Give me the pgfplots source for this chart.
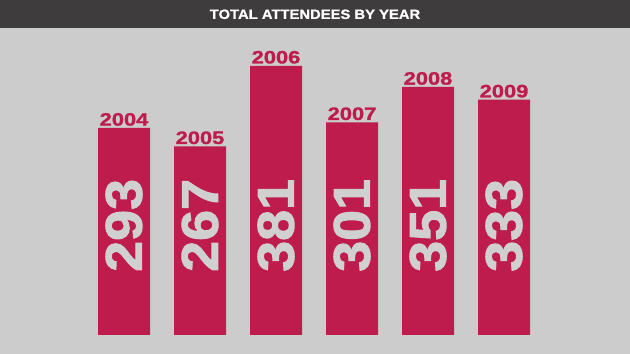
\documentclass[border=0pt]{standalone}
\usepackage{pgfplots}
\pgfplotsset{compat=1.18}
\usepackage{fontspec}
\setmainfont{Liberation Sans}
\newfontfamily\titlefont{Liberation Sans Bold}[FakeStretch=1.1,FakeBold=1]
\newfontfamily\yearfont{Liberation Sans Bold}[FakeStretch=1.22,FakeBold=1.5]
\newfontfamily\valfont{Liberation Sans Bold}[FakeStretch=1.08,FakeBold=2]
\definecolor{barc}{HTML}{BE1C4D}
\definecolor{bgc}{HTML}{CCCCCC}
\definecolor{hdr}{HTML}{3E3C3D}
\definecolor{valc}{HTML}{D0D0D0}
\tikzset{valnode/.style={rotate=90, anchor=west, inner sep=0, text=valc,
    font=\valfont\fontsize{51.7}{52}\selectfont}}
\begin{document}
\begin{tikzpicture}
\fill[bgc] (0,0) rectangle (630bp,354bp);
\fill[hdr] (0,326bp) rectangle (630bp,354bp);
\node[text=white, inner sep=0, font=\titlefont\fontsize{13.5}{14}\selectfont] at (315bp,339.7bp) {TOTAL ATTENDEES BY YEAR};
\begin{axis}[
  at={(0,0)}, anchor=south west,
  scale only axis, width=630bp, height=326bp,
  xmin=-1.6316, xmax=6.6579,
  ymin=-26.89, ymax=434.5,
  hide axis, clip=false,
]
\addplot[ybar, bar width=52bp, fill=barc, draw=none,
  point meta=explicit symbolic,
  nodes near coords={\pgfplotspointmeta},
  every node near coord/.append style={text=barc, inner sep=0, anchor=south, yshift=2bp,
    font=\yearfont\fontsize{18}{18}\selectfont}]
  table[meta=year] {
x y year
0 293 2004
1 267 2005
2 381 2006
3 301 2007
4 351 2008
5 333 2009
};
\node[valnode] at (axis cs:0,89.2) {293};
\node[valnode] at (axis cs:1,89.2) {267};
\node[valnode] at (axis cs:2,89.2) {381};
\node[valnode] at (axis cs:3,89.2) {301};
\node[valnode] at (axis cs:4,89.2) {351};
\node[valnode] at (axis cs:5,89.2) {333};
\end{axis}
\end{tikzpicture}
\end{document}
